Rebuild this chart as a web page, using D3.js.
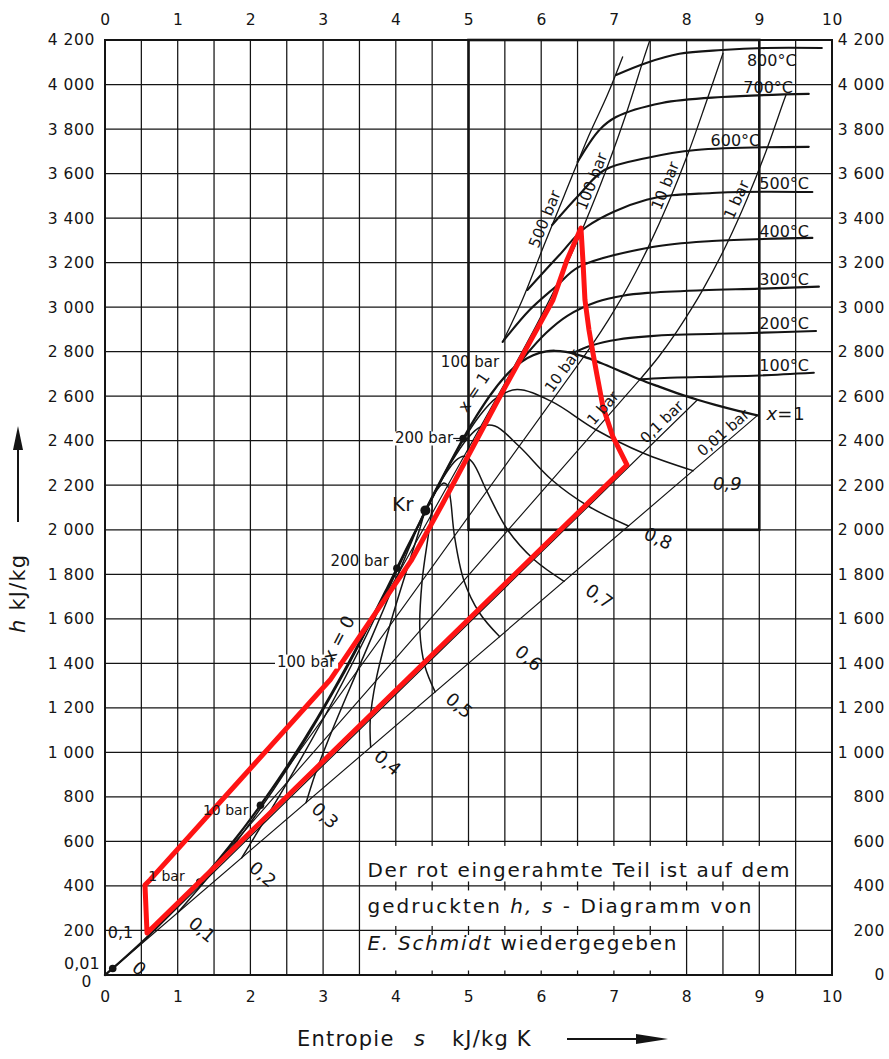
<!DOCTYPE html>
<html>
<head>
<meta charset="utf-8">
<title>h,s-Diagramm für Wasser</title>
<script src="https://cdn.jsdelivr.net/npm/d3@7/dist/d3.min.js"></script>
<style>
  html,body{margin:0;padding:0;background:#fff;}
  svg{display:block;}
  text{font-family:"DejaVu Sans",sans-serif;fill:#151515;}
</style>
</head>
<body>
<svg id="chart" width="889" height="1059"></svg>
<script>
// ---------- axes ----------
const sTicks = [0,1,2,3,4,5,6,7,8,9,10];
const hTicks = [0,200,400,600,800,1000,1200,1400,1600,1800,2000,2200,2400,2600,2800,3000,3200,3400,3600,3800,4000,4200];
const hTickLabels = ["0","200","400","600","800","1 000","1 200","1 400","1 600","1 800","2 000","2 200","2 400","2 600","2 800","3 000","3 200","3 400","3 600","3 800","4 000","4 200"];
const sGrid = d3.range(0, 10.0001, 0.5);
const hGrid = hTicks;

// ---------- saturation lines (s in kJ/kg K, h in kJ/kg) ----------
const satLiquid = [[0,0],[0.106,29.3],[0.649,191.8],[1.303,417.5],[1.861,640.1],[2.138,762.6],[2.447,908.6],[2.921,1154.5],[3.360,1408],[3.684,1611],[3.871,1732],[4.015,1827],[4.106,1888],[4.296,2011],[4.407,2087]];
const satVapor = [[4.407,2087],[4.576,2195],[4.927,2410],[5.106,2509],[5.311,2610],[5.493,2685],[5.614,2725],[5.745,2758],[5.890,2784],[6.070,2801],[6.186,2804],[6.340,2799],[6.586,2778],[6.821,2749],[7.127,2707],[7.359,2675],[7.594,2646],[7.908,2609],[8.150,2584],[8.394,2561],[8.723,2533],[8.975,2514]];

// ---------- lines of constant steam quality x ----------
const qualityX = ["0,1","0,2","0,3","0,4","0,5","0,6","0,7","0,8","0,9"];
const q01 = [[0.993,277.8],[1.399,431.0],[1.909,643.3],[2.583,964.1],[3.226,1318.5],[3.585,1539.7],[3.847,1710.9],[4.106,1885.3],[4.324,2029.4],[4.407,2087]];
const q02 = [[1.880,526.2],[2.149,670.2],[2.514,869.0],[3.028,1165.7],[3.531,1482.4],[3.811,1671.4],[4.009,1810.8],[4.197,1943.6],[4.352,2047.8],[4.407,2087]];
const q03 = [[2.767,774.7],[2.899,909.5],[3.120,1094.8],[3.472,1367.2],[3.837,1646.4],[4.036,1803.1],[4.172,1910.7],[4.289,2001.9],[4.380,2066.2],[4.407,2087]];
const q04 = [[3.654,1023.2],[3.649,1148.7],[3.725,1320.5],[3.917,1568.8],[4.142,1810.3],[4.262,1934.8],[4.335,2010.6],[4.380,2060.2],[4.407,2087]];
const q05 = [[4.541,1271.7],[4.400,1387.9],[4.331,1546.3],[4.362,1770.3],[4.447,1974.3],[4.487,2066.5],[4.498,2110.5],[4.471,2118.5],[4.436,2103],[4.407,2087]];
const q06 = [[5.427,1520.1],[5.150,1627.1],[4.937,1772],[4.807,1971.8],[4.752,2138.2],[4.712,2198.2],[4.660,2210.4],[4.562,2176.8],[4.464,2121.4],[4.407,2087]];
const q07 = [[6.314,1768.6],[5.900,1866.3],[5.542,1997.8],[5.252,2173.4],[5.057,2302.2],[4.938,2329.9],[4.823,2310.3],[4.653,2235.1],[4.492,2139.8],[4.407,2087]];
const q08 = [[7.201,2017.1],[6.650,2105.6],[6.148,2223.5],[5.696,2374.9],[5.363,2466.1],[5.163,2461.6],[4.986,2410.2],[4.745,2293.4],[4.520,2158.2],[4.407,2087]];
const q09 = [[8.088,2265.5],[7.400,2344.8],[6.753,2449.3],[6.141,2576.5],[5.668,2630.1],[5.389,2593.3],[5.148,2510.1],[4.836,2351.7],[4.548,2176.6],[4.407,2087]];
const qualityLines = [q01,q02,q03,q04,q05,q06,q07,q08,q09];

// ---------- isobars in the wet region (straight from x=0 to x=1) ----------
const wetIsobarNames = ["0,01 bar","0,1 bar","1 bar","10 bar","100 bar","200 bar"];
const wetIsobarLiquid = [[0.106,29.3],[0.649,191.8],[1.303,417.5],[2.138,762.6],[3.360,1408],[4.015,1827]];
const wetIsobarVapor  = [[8.975,2514],[8.150,2584],[7.359,2675],[6.586,2778],[5.614,2725],[4.927,2410]];

// ---------- isobars in the superheated region ----------
const iso1bar   = [[7.359,2675],[7.614,2776],[7.834,2875],[8.033,2975],[8.216,3074],[8.544,3278],[8.834,3488],[9.098,3705],[9.340,3929],[9.37,3955]];
const iso10bar  = [[6.586,2778],[6.694,2828],[6.925,2943],[7.123,3051],[7.301,3158],[7.465,3264],[7.762,3479],[8.029,3698],[8.273,3924],[8.50,4140]];
const iso100bar = [[5.614,2725],[5.944,2925],[6.212,3097],[6.419,3241],[6.597,3374],[6.756,3501],[6.903,3625],[7.170,3870],[7.408,4114],[7.49,4195]];
const iso500bar = [[5.47,2844],[5.74,3032],[6.04,3279],[6.32,3504],[6.66,3774],[6.91,3953],[7.12,4124]];

// ---------- isotherms ----------
const tempLabels = ["100°C","200°C","300°C","400°C","500°C","600°C","700°C","800°C"];
const t100 = [[7.355,2676],[7.69,2682],[8.45,2688],[9.00,2693],[9.75,2705]];
const t200 = [[6.43,2793],[6.69,2828],[7.06,2855],[7.51,2870],[7.83,2876],[8.90,2884],[9.78,2893]];
const t300 = [[5.705,2749],[5.79,2785],[6.07,2885],[6.36,2961],[6.77,3024],[7.12,3051],[7.46,3064],[8.22,3076],[9.00,3083],[9.82,3092]];
const t400 = [[5.47,2844],[5.84,2987],[6.21,3095],[6.52,3181],[7.53,3270],[8.35,3297],[9.73,3311]];
const t500 = [[5.81,3077],[6.25,3234],[6.62,3360],[7.45,3482],[8.35,3513],[9.73,3517]];
const t600 = [[6.15,3369],[6.52,3504],[6.87,3616],[7.45,3670],[8.13,3706],[9.68,3720]];
const t700 = [[6.50,3652],[6.80,3796],[7.03,3854],[7.66,3917],[8.49,3944],[9.68,3958]];
const t800 = [[7.03,4043],[7.445,4097],[7.90,4138],[8.49,4155],[9.09,4164],[9.86,4164]];
const isotherms = [t100,t200,t300,t400,t500,t600,t700,t800];

// ---------- area of the printed diagram (red frame) ----------
const redFrame = [[6.547,3355],[6.575,3203],[6.602,3032],[6.657,2898],[6.712,2794],[6.767,2695],[6.850,2552],[6.987,2417],[7.180,2291],
                  [0.578,189],[0.550,404],[0.619,427],[1.857,876],[3.095,1325],[3.645,1590],[4.209,1860],[4.649,2120],[5.406,2583],[6.162,3032],[6.355,3212]];
const schmidtBox = [[5,2000],[9,4200]];

// ---------- marked pressures on the saturation lines ----------
const liquidMarks = [[0.106,29.3],[1.303,417.5],[2.138,762.6],[4.015,1827]];
const criticalPoint = [4.407,2087];
const vaporMark200 = [4.927,2410];

// ================= drawing =================
const svg = d3.select("#chart");
const INK = "#141414";
const x = d3.scaleLinear().domain([0,10]).range([105,832]);
const y = d3.scaleLinear().domain([0,4200]).range([975,40]);
const P = d => [x(d[0]), y(d[1])];

svg.append("rect").attr("width",889).attr("height",1059).attr("fill","#fff");

// grid
const grid = svg.append("g").attr("stroke",INK).attr("stroke-width",1.25);
grid.selectAll("line.gv").data(sGrid).join("line").attr("class","gv")
  .attr("x1",d=>x(d)).attr("x2",d=>x(d)).attr("y1",y(0)).attr("y2",y(4200));
grid.selectAll("line.gh").data(hGrid).join("line").attr("class","gh")
  .attr("x1",x(0)).attr("x2",x(10)).attr("y1",d=>y(d)).attr("y2",d=>y(d));
svg.append("rect").attr("x",x(0)).attr("y",y(4200)).attr("width",x(10)-x(0)).attr("height",y(0)-y(4200))
  .attr("fill","none").attr("stroke",INK).attr("stroke-width",2);

// frame of the printed diagram
svg.append("rect").attr("x",x(schmidtBox[0][0])).attr("y",y(schmidtBox[1][1]))
  .attr("width",x(schmidtBox[1][0])-x(schmidtBox[0][0])).attr("height",y(schmidtBox[0][1])-y(schmidtBox[1][1]))
  .attr("fill","none").attr("stroke",INK).attr("stroke-width",2.6);

// axes
function styleAxis(g){ g.select(".domain").remove(); g.attr("font-size",15.5).attr("font-family",null); g.selectAll("text").attr("fill","#151515").style("letter-spacing","0.6px"); }
svg.append("g").attr("transform",`translate(0,${y(4200)})`)
  .call(d3.axisTop(x).tickValues(sTicks).tickSize(0).tickPadding(15)).call(styleAxis);
svg.append("g").attr("transform",`translate(0,${y(0)})`)
  .call(d3.axisBottom(x).tickValues(sTicks).tickSize(0).tickPadding(16)).call(styleAxis);
svg.append("g").attr("transform",`translate(${x(0)},0)`)
  .call(d3.axisLeft(y).tickValues(hTicks).tickFormat((d,i)=>hTickLabels[i]).tickSize(0).tickPadding(10)).call(styleAxis)
  .call(g=>g.selectAll(".tick").filter(d=>d===0).select("text").attr("dy","0.75em").attr("x",-13));
svg.append("g").attr("transform",`translate(${x(10)},0)`)
  .call(d3.axisRight(y).tickValues(hTicks).tickFormat((d,i)=>hTickLabels[i]).tickSize(0).tickPadding(10)).call(styleAxis)
  .call(g=>g.selectAll("text").attr("text-anchor","end").attr("x",53));

// text panel with white rows
const panelRows = [
  {end:9.5, hTop:600, hBot:400},
  {end:9.0, hTop:400, hBot:200},
  {end:8.0, hTop:200, hBot:0}
];
svg.append("g").selectAll("rect").data(panelRows).join("rect")
  .attr("x",x(3.5)+1.5).attr("width",d=>x(d.end)-x(3.5)-3)
  .attr("y",d=>y(d.hTop)+4.5).attr("height",d=>y(d.hBot)-y(d.hTop)-9)
  .attr("fill","#fff");

// curves
const straight = d3.line().x(d=>x(d[0])).y(d=>y(d[1]));
const smooth = d3.line().x(d=>x(d[0])).y(d=>y(d[1])).curve(d3.curveCatmullRom.alpha(0.5));
const curves = svg.append("g").attr("fill","none").attr("stroke",INK).attr("stroke-linecap","round").attr("stroke-linejoin","round");

wetIsobarLiquid.forEach((a,i)=>{
  curves.append("path").attr("d",straight([a,wetIsobarVapor[i]])).attr("stroke-width",1.15);
});
[iso1bar,iso10bar,iso100bar,iso500bar].forEach(d=>curves.append("path").attr("d",smooth(d)).attr("stroke-width",1.3));
qualityLines.forEach(d=>curves.append("path").attr("d",smooth(d)).attr("stroke-width",1.5));
isotherms.forEach(d=>curves.append("path").attr("d",smooth(d)).attr("stroke-width",2.1));
curves.append("path").attr("d",smooth(satLiquid)).attr("stroke-width",2.3);
curves.append("path").attr("d",smooth(satVapor)).attr("stroke-width",2.3);

// marked points
const dots = svg.append("g").attr("fill",INK);
dots.selectAll("circle.m").data(liquidMarks.concat([vaporMark200])).join("circle").attr("class","m")
  .attr("cx",d=>x(d[0])).attr("cy",d=>y(d[1])).attr("r",3.8);
dots.append("circle").attr("cx",x(criticalPoint[0])).attr("cy",y(criticalPoint[1])).attr("r",5);

// red frame
svg.append("path").attr("d",d3.line().x(d=>x(d[0])).y(d=>y(d[1])).curve(d3.curveLinearClosed)(redFrame))
  .attr("fill","none").attr("stroke","#ff1414").attr("stroke-width",5).attr("stroke-linejoin","round");

// ---------- labels ----------
const labels = svg.append("g");
function txt(px,py,str,opt={}){
  const t = labels.append("text").attr("x",px).attr("y",py).text(str)
    .attr("font-size",opt.size||15).attr("text-anchor",opt.anchor||"start");
  if(opt.italic) t.attr("font-style","italic");
  if(opt.rot!==undefined) t.attr("transform",`rotate(${opt.rot},${px},${py})`);
  if(opt.bg){
    const b=t.node().getBBox();
    labels.insert("rect","text").attr("x",b.x-2).attr("y",b.y+2).attr("width",b.width+4).attr("height",b.height-4).attr("fill","#fff");
  }
  return t;
}
// point on a polyline (pixel space) at a given h, with local direction
function along(pts,h){
  const Q=pts.map(P), ty=y(h);
  for(let i=0;i<Q.length-1;i++){
    const [x0,y0]=Q[i],[x1,y1]=Q[i+1];
    if((y0-ty)*(y1-ty)<=0 && y0!==y1){
      const t=(ty-y0)/(y1-y0);
      return {px:x0+t*(x1-x0),py:ty,ang:Math.atan2(y1-y0,x1-x0)*180/Math.PI};
    }
  }
  return {px:Q[0][0],py:Q[0][1],ang:0};
}
function lineLabel(pts,h,str,size,off,shift){
  const a=along(pts,h);
  const r=a.ang*Math.PI/180;
  const px=a.px+(shift||0)*Math.cos(r)+off*Math.sin(r), py=a.py+(shift||0)*Math.sin(r)-off*Math.cos(r);
  txt(px,py,str,{size:size,anchor:"middle",rot:a.ang});
}

// pressures on x=0
let p;
p=P(liquidMarks[0]); txt(p[0]-13,p[1]+1,"0,01",{size:16,anchor:"end"});
p=P(wetIsobarLiquid[1]); txt(p[0]-19,p[1]+6,"0,1",{size:16,anchor:"end"});
p=P(liquidMarks[1]); txt(p[0]-15,p[1]-1,"1 bar",{size:14,anchor:"end"});
p=P(liquidMarks[2]); txt(p[0]-12,p[1]+10,"10 bar",{size:14,anchor:"end"});
p=P(wetIsobarLiquid[4]); txt(p[0]-14,p[1]+5,"100 bar",{size:15,anchor:"end",bg:true});
p=P(liquidMarks[3]); txt(p[0]-8,p[1]-2,"200 bar",{size:15,anchor:"end"});
p=P(criticalPoint); txt(p[0]-12,p[1]+1,"Kr",{size:20,anchor:"end"});
// pressures on x=1
p=P(vaporMark200); txt(p[0]-10,p[1]+5,"200 bar",{size:15,anchor:"end",bg:true});
labels.append("line").attr("x1",p[0]-10).attr("x2",p[0]).attr("y1",p[1]).attr("y2",p[1]).attr("stroke",INK).attr("stroke-width",1.2);
p=P(wetIsobarVapor[4]); txt(p[0]-14,p[1]-1,"100 bar",{size:15,anchor:"end"});
p=P(satVapor[satVapor.length-1]); 
labels.append("text").attr("x",p[0]+9).attr("y",p[1]+5).attr("font-size",18)
  .call(t=>{t.append("tspan").attr("font-style","italic").text("x"); t.append("tspan").text("=1").style("letter-spacing","1px");});

// rotated x=0 / x=1
lineLabel(satLiquid,1470,"x = 0",18,14);
lineLabel(satVapor,2580,"x = 1",16,10);

// wet isobar labels
wetIsobarNames.slice(0,4).forEach((n,i)=>{
  const hs=[2405,2455,2520,2690][i];
  lineLabel([wetIsobarLiquid[i],wetIsobarVapor[i]],hs,n,15,4);
});
// superheated isobar labels
lineLabel(iso500bar,3380,"500 bar",15.5,4);
lineLabel(iso100bar,3550,"100 bar",15.5,4);
lineLabel(iso10bar,3530,"10 bar",15.5,4);
lineLabel(iso1bar,3465,"1 bar",15.5,4);

// isotherm labels
const tempLabelLayout = [{s:9.0,dy:-4},{s:9.0,dy:-4},{s:9.0,dy:-4},{s:9.0,dy:-3},{s:9.0,dy:-4},{s:8.33,dy:-4},{s:8.78,dy:-3},{s:8.83,dy:17}];
isotherms.forEach((d,i)=>{
  const L=tempLabelLayout[i];
  let h=d[d.length-1][1];
  for(let k=0;k<d.length-1;k++) if(d[k][0]<=L.s && d[k+1][0]>=L.s){ const t=(L.s-d[k][0])/(d[k+1][0]-d[k][0]); h=d[k][1]+t*(d[k+1][1]-d[k][1]); }
  txt(x(L.s),y(h)+L.dy,tempLabels[i],{size:16});
});

// quality labels at the ends of the x-lines
const qualityLabelLayout = [{dx:20,dy:12,r:40},{dx:16,dy:12,r:40},{dx:14,dy:8,r:42},{dx:12,dy:11,r:40},{dx:19,dy:9,r:40},{dx:24,dy:17,r:40},{dx:30,dy:12,r:35},{dx:24,dy:12,r:25},{dx:30,dy:19,r:0}];
qualityLines.forEach((d,i)=>{
  const L=qualityLabelLayout[i], q=P(d[0]);
  txt(q[0]+L.dx-10,q[1]+L.dy,qualityX[i],{size:18,rot:L.r,italic:i===8});
});
p=P(satLiquid[1]); txt(p[0]+18,p[1]+1,"0",{size:18,rot:40});

// text panel
const panel = labels.append("g").attr("font-size",20);
panel.append("text").attr("x",x(3.5)+8).attr("y",877).attr("textLength",422).attr("lengthAdjust","spacing")
  .text("Der rot eingerahmte Teil ist auf dem");
panel.append("text").attr("x",x(3.5)+8).attr("y",913).attr("textLength",384).attr("lengthAdjust","spacing")
  .call(t=>{t.append("tspan").text("gedruckten "); t.append("tspan").attr("font-style","italic").text("h, s"); t.append("tspan").text(" - Diagramm von");});
panel.append("text").attr("x",x(3.5)+8).attr("y",950).attr("textLength",309).attr("lengthAdjust","spacing")
  .call(t=>{t.append("tspan").attr("font-style","italic").text("E. Schmidt"); t.append("tspan").text(" wiedergegeben");});

// axis titles
const bt = labels.append("g").attr("font-size",21).style("letter-spacing","1.2px");
bt.append("text").attr("x",297).attr("y",1046).text("Entropie");
bt.append("text").attr("x",414).attr("y",1046).attr("font-style","italic").text("s");
bt.append("text").attr("x",452).attr("y",1046).text("kJ/kg K");
labels.append("line").attr("x1",567).attr("x2",640).attr("y1",1039).attr("y2",1039).attr("stroke",INK).attr("stroke-width",2);
labels.append("path").attr("d","M636,1034 L668,1039 L636,1044 Z").attr("fill",INK);

const lt = labels.append("text").attr("transform","translate(25,633) rotate(-90)").attr("font-size",21).style("letter-spacing","1.2px");
lt.append("tspan").attr("font-style","italic").text("h");
lt.append("tspan").text("  kJ/kg");
labels.append("line").attr("x1",18).attr("x2",18).attr("y1",522).attr("y2",445).attr("stroke",INK).attr("stroke-width",2);
labels.append("path").attr("d","M13,450 L18,426 L23,450 Z").attr("fill",INK);
</script>
</body>
</html>
